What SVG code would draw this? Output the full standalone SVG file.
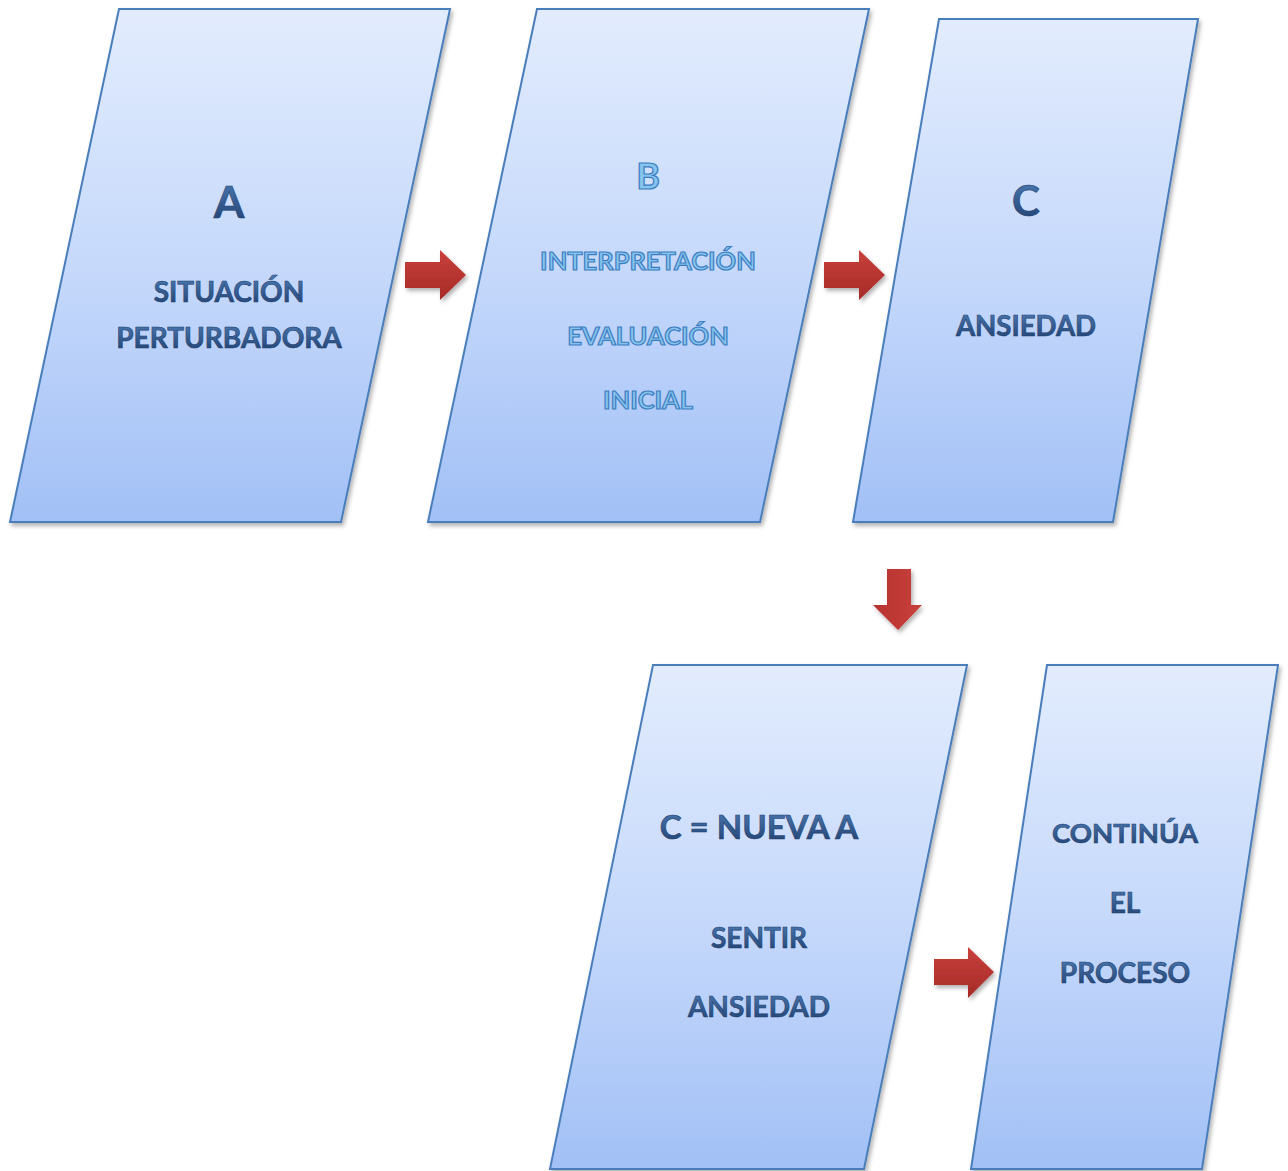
<svg xmlns="http://www.w3.org/2000/svg" width="1288" height="1171" viewBox="0 0 1288 1171">
<defs>
<linearGradient id="fillG" x1="0" y1="0" x2="0" y2="1">
<stop offset="0" stop-color="#E2ECFD"/>
<stop offset="0.5" stop-color="#C6D9FB"/>
<stop offset="1" stop-color="#A2C0F6"/>
</linearGradient>
<linearGradient id="arrG" x1="0" y1="0" x2="0" y2="1">
<stop offset="0" stop-color="#C9403C"/>
<stop offset="1" stop-color="#A52A26"/>
</linearGradient>
<linearGradient id="arrGd" x1="0" y1="0" x2="1" y2="0">
<stop offset="0" stop-color="#B7322E"/>
<stop offset="1" stop-color="#C9403C"/>
</linearGradient>
<linearGradient id="txtG" x1="0" y1="0" x2="0" y2="1">
<stop offset="0" stop-color="#4F7FB8"/>
<stop offset="1" stop-color="#1F3E6E"/>
</linearGradient>
<filter id="sh" x="-10%" y="-10%" width="130%" height="130%">
<feDropShadow dx="2" dy="3" stdDeviation="2" flood-color="#000" flood-opacity="0.3"/>
</filter>
</defs>
<style>
.shape{fill:url(#fillG);stroke:#4A7EBB;stroke-width:2;filter:url(#sh)}
.t{font-family:Lato,"Open Sans","Liberation Sans",sans-serif;font-weight:bold;text-anchor:middle;fill:url(#txtG);stroke:#1F3E6E;stroke-width:0.6}
.tb{font-family:Lato,"Open Sans","Liberation Sans",sans-serif;font-weight:bold;text-anchor:middle;fill:#86C4EC;stroke:#3C7DC2;stroke-width:1.2}
.arr{fill:url(#arrG);filter:url(#sh)}
.arrd{fill:url(#arrGd);filter:url(#sh)}
</style>
<rect width="1288" height="1171" fill="#FFFFFF"/>
<g id="nodeA">
<polygon class="shape" points="119,9 450,9 341,522 10,522"/>
<text class="t" x="229" y="218" font-size="44">A</text>
<text class="t" x="229" y="302" font-size="28">SITUACIÓN</text>
<text class="t" x="229" y="348" font-size="28">PERTURBADORA</text>
</g>
<g id="nodeB">
<polygon class="shape" points="537,9 869,9 760,522 428,522"/>
<text class="tb" x="648" y="189" font-size="36">B</text>
<text class="tb" x="648" y="270" font-size="25.5">INTERPRETACIÓN</text>
<text class="tb" x="648" y="345" font-size="25.5">EVALUACIÓN</text>
<text class="tb" x="648" y="409" font-size="25.5">INICIAL</text>
</g>
<g id="nodeC">
<polygon class="shape" points="939,19 1198,19 1113,522 853,522"/>
<text class="t" x="1026" y="216" font-size="42">C</text>
<text class="t" x="1026" y="336" font-size="27.6">ANSIEDAD</text>
</g>
<g id="nodeD">
<polygon class="shape" points="653,665 967,665 864,1169 550,1169"/>
<text class="t" x="759" y="839" font-size="33">C = NUEVA A</text>
<text class="t" x="759" y="948" font-size="28">SENTIR</text>
<text class="t" x="759" y="1017" font-size="28">ANSIEDAD</text>
</g>
<g id="nodeE">
<polygon class="shape" points="1047,665 1278,665 1202,1169 971,1169"/>
<text class="t" x="1125" y="843" font-size="27.5">CONTINÚA</text>
<text class="t" x="1125" y="913" font-size="28">EL</text>
<text class="t" x="1125" y="983" font-size="28">PROCESO</text>
</g>
<g id="connectors">
<polygon class="arr" points="405,262 440,262 440,250 466,275 440,300 440,288 405,288"/>
<polygon class="arr" points="824,262 859,262 859,250 885,275 859,300 859,288 824,288"/>
<polygon class="arrd" points="887,569 911,569 911,605 922,605 898,630 873,605 887,605"/>
<polygon class="arr" points="934,959 968,959 968,947 994,972 968,998 968,985 934,985"/>
</g>
</svg>
